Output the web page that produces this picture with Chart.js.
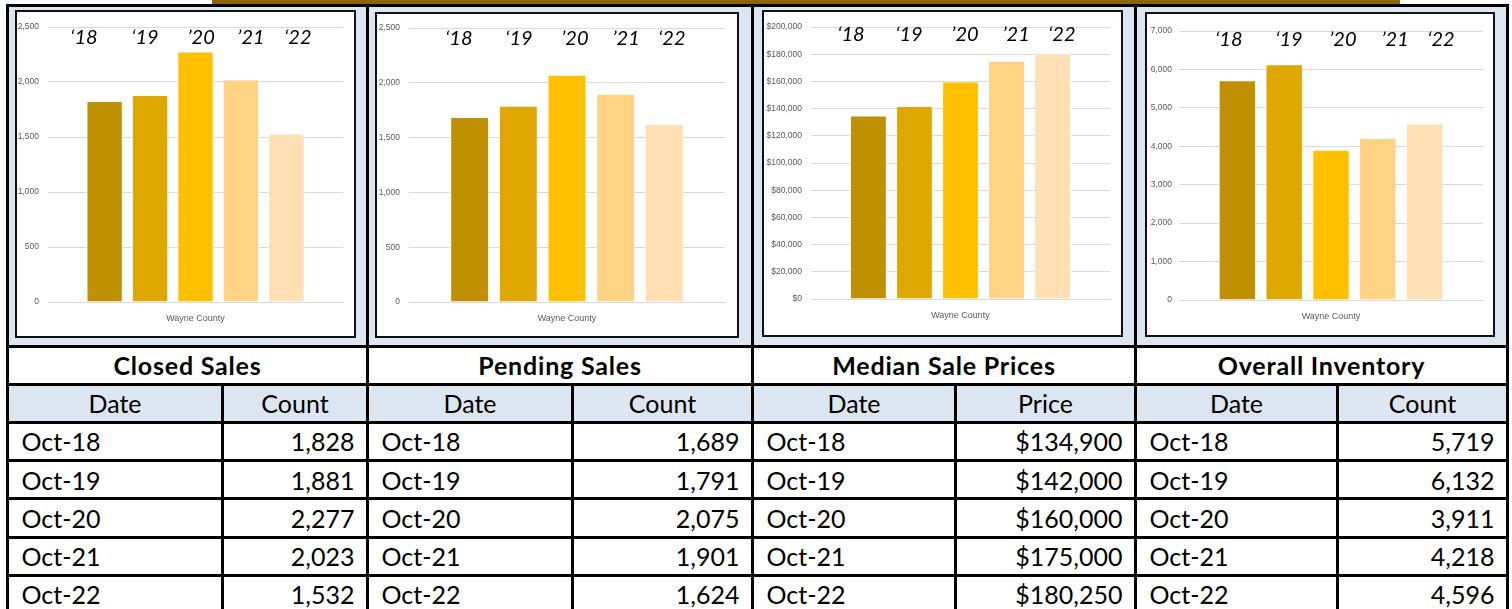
<!DOCTYPE html>
<html>
<head>
<meta charset="utf-8">
<script src="https://cdn.jsdelivr.net/npm/chart.js@4.4.0/dist/chart.umd.min.js"></script>
<style>
html, body { margin:0; padding:0; background:#fff; width:1512px; height:609px; overflow:hidden; }
#page { position:relative; width:1512px; height:609px; }
.band { position:absolute; left:212px; top:0; width:1188px; height:4px; background:#8a6500; }
.fill { position:absolute; background:#dce6f1; }
.line { position:absolute; background:#000; }
.box { position:absolute; box-sizing:border-box; border:2px solid #111; background:#fff; }
.box canvas { display:block; }
.txt { position:absolute; display:flex; align-items:center; box-sizing:border-box;
       font-family: Lato, "Open Sans", sans-serif; font-size:25px; color:#000; white-space:nowrap; }
.txt.head { font-weight:bold; justify-content:center; letter-spacing:0.8px; }
.txt.mid { justify-content:center; }
.txt.left { justify-content:flex-start; padding-left:14px; }
.txt.right { justify-content:flex-end; padding-right:13px; }
</style>
</head>
<body>
<div id="page"><div class="band"></div></div>
<script>
// data
const years = ['‘18', '‘19', '’20', '’21', '‘22'];
const dates = ['Oct-18', 'Oct-19', 'Oct-20', 'Oct-21', 'Oct-22'];
const region = ['Wayne County'];
const closedSales = [1828, 1881, 2277, 2023, 1532];
const pendingSales = [1689, 1791, 2075, 1901, 1624];
const medianPrices = [134900, 142000, 160000, 175000, 180250];
const inventory = [5719, 6132, 3911, 4218, 4596];
const barColors = ['#bf9000', '#dfa800', '#ffc000', '#ffd284', '#ffdfb3'];

const fmt = v => v.toLocaleString('en-US');
const money = v => '$' + v.toLocaleString('en-US');

// layout of the sheet
const colX = [7.5, 222.5, 367.5, 572.5, 752.5, 955.5, 1135.5, 1337.5, 1507.5];
const rowY = [5, 346, 384, 422, 460.5, 498.5, 537, 575, 613];

const panels = [
  { title: 'Closed Sales', head: 'Count', values: closedSales, max: 2500, step: 500, f: fmt,
    box: [15, 10, 341, 328], yW: 31, top: 15, right: 11, xH: 34, tickPad: 9,
    lx: [0.122, 0.329, 0.519, 0.688, 0.847], ly: 11 },
  { title: 'Pending Sales', head: 'Count', values: pendingSales, max: 2500, step: 500, f: fmt,
    box: [375, 12, 364, 326], yW: 32, top: 14, right: 12, xH: 34, tickPad: 9,
    lx: [0.158, 0.348, 0.525, 0.687, 0.832], ly: 10 },
  { title: 'Median Sale Prices', head: 'Price', values: medianPrices, max: 200000, step: 20000, f: money,
    box: [762, 10, 361, 327], yW: 47, top: 15, right: 11, xH: 36, tickPad: 9,
    lx: [0.134, 0.328, 0.515, 0.686, 0.839], ly: 8 },
  { title: 'Overall Inventory', head: 'Count', values: inventory, max: 7000, step: 1000, f: fmt,
    box: [1145, 12, 350, 325], yW: 32, top: 17, right: 10, xH: 35, tickPad: 7,
    lx: [0.164, 0.362, 0.539, 0.711, 0.862], ly: 9 }
];

const page = document.getElementById('page');
function add(cls, x, y, w, h, text) {
  const d = document.createElement('div');
  d.className = cls;
  d.style.left = x + 'px'; d.style.top = y + 'px';
  d.style.width = w + 'px'; d.style.height = h + 'px';
  if (text !== undefined) d.textContent = text;
  page.appendChild(d);
  return d;
}

// blue backgrounds: chart row and the Date row
add('fill', colX[0], rowY[0], colX[8] - colX[0], rowY[1] - rowY[0]);
add('fill', colX[0], rowY[2], colX[8] - colX[0], rowY[3] - rowY[2]);

// grid lines
rowY.forEach(y => add('line', colX[0] - 1.5, y - 1.5, colX[8] - colX[0] + 3, 3));
colX.forEach((x, i) => {
  const y0 = i % 2 === 0 ? rowY[0] : rowY[2];
  add('line', x - 1.5, y0 - 1.5, 3, rowY[8] - y0 + 3);
});

// table text
panels.forEach((p, k) => {
  const a = colX[2 * k], m = colX[2 * k + 1], b = colX[2 * k + 2];
  add('txt head', a, rowY[1], b - a, rowY[2] - rowY[1], p.title);
  add('txt mid', a, rowY[2], m - a, rowY[3] - rowY[2], 'Date');
  add('txt mid', m, rowY[2], b - m, rowY[3] - rowY[2], p.head);
  dates.forEach((d, r) => {
    const y = rowY[3 + r], h = rowY[4 + r] - y;
    add('txt left', a, y, m - a, h, d);
    add('txt right', m, y, b - m, h, p.f(p.values[r]));
  });
});

// year labels written over each chart
const yearLabels = {
  id: 'yearLabels',
  afterDatasetsDraw(chart, args, opts) {
    const { ctx, chartArea } = chart;
    ctx.save();
    ctx.font = 'italic 20px Lato, "Open Sans", sans-serif';
    ctx.fillStyle = '#000';
    ctx.textAlign = 'center';
    ctx.textBaseline = 'middle';
    years.forEach((t, i) => {
      ctx.fillText(t, chartArea.left + opts.xs[i] * chartArea.width, chartArea.top + opts.dy);
    });
    ctx.restore();
  }
};

const tickFont = { family: '"Liberation Sans", Arial, sans-serif', size: 8.5 };

panels.forEach(p => {
  const [x, y, w, h] = p.box;
  const box = add('box', x, y, w, h);
  const canvas = document.createElement('canvas');
  canvas.width = w - 4; canvas.height = h - 4;
  canvas.style.width = (w - 4) + 'px'; canvas.style.height = (h - 4) + 'px';
  box.appendChild(canvas);

  new Chart(canvas, {
    type: 'bar',
    data: {
      labels: region,
      datasets: years.map((yr, i) => ({
        label: yr,
        data: [p.values[i]],
        backgroundColor: barColors[i],
        borderColor: 'rgba(255,255,255,0.55)',
        borderWidth: 1,
        categoryPercentage: 0.77,
        barPercentage: 0.8
      }))
    },
    options: {
      responsive: false,
      animation: false,
      devicePixelRatio: 1,
      layout: { padding: { top: p.top, right: p.right, left: 0, bottom: 0 } },
      plugins: {
        legend: { display: false },
        tooltip: { enabled: false },
        yearLabels: { xs: p.lx, dy: p.ly }
      },
      scales: {
        x: {
          grid: { display: false, drawTicks: false },
          border: { color: '#d9d9d9', width: 1 },
          ticks: { color: '#595959', font: { family: tickFont.family, size: 9 }, padding: 11 },
          afterFit(s) { s.height = p.xH; }
        },
        y: {
          min: 0, max: p.max,
          grid: { color: '#d9d9d9', drawTicks: false },
          border: { display: false },
          ticks: { stepSize: p.step, padding: p.tickPad, color: '#595959', font: tickFont,
                   callback: v => p.f(v) },
          afterFit(s) { s.width = p.yW; }
        }
      }
    },
    plugins: [yearLabels]
  });
});
</script>
</body>
</html>
